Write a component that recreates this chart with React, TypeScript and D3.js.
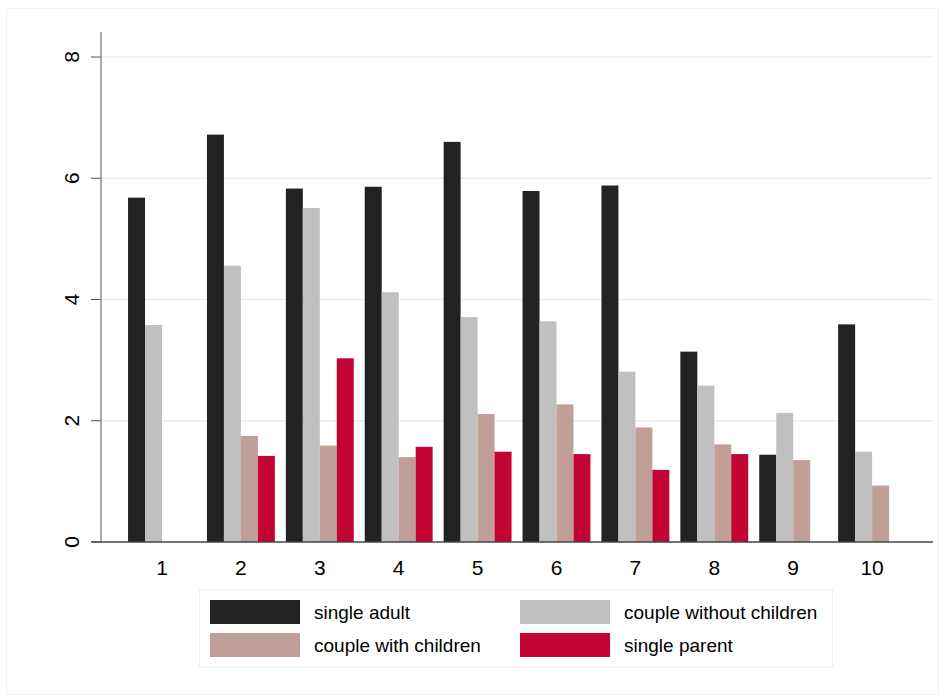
import React from 'react'
import * as d3 from 'd3'

const groups = ['1', '2', '3', '4', '5', '6', '7', '8', '9', '10']
const seriesNames = ['single adult', 'couple without children', 'couple with children', 'single parent']
const singleAdult = [5.68, 6.72, 5.83, 5.86, 6.6, 5.79, 5.88, 3.14, 1.44, 3.59]
const coupleNoKids = [3.58, 4.56, 5.51, 4.12, 3.71, 3.64, 2.81, 2.58, 2.13, 1.49]
const coupleKids = [0, 1.75, 1.59, 1.4, 2.11, 2.27, 1.89, 1.61, 1.35, 0.93]
const singleParent = [0, 1.42, 3.03, 1.57, 1.49, 1.45, 1.19, 1.45, 0, 0]
const yTicks = [0, 2, 4, 6, 8]
const colors = ['#222222', '#c0c0c0', '#bf9f98', '#c20434']

export default function App() {
  const W = 946, H = 697
  const values = [singleAdult, coupleNoKids, coupleKids, singleParent]
  const step = 78.9
  const x = d3.scaleBand<string>().domain(groups)
    .range([162 - step / 2, 162 - step / 2 + step * 10]).paddingInner(11 / step).paddingOuter(5.5 / step)
  const xs = d3.scaleBand<number>().domain([0, 1, 2, 3]).range([0, x.bandwidth()])
  const y = d3.scaleLinear().domain([0, 8]).range([542, 57])
  const font = 'Liberation Sans, Arial, sans-serif'
  return (
    <svg width={W} height={H} style={{ display: 'block', position: 'absolute', left: 0, top: 0 }} fontFamily={font}>
      <rect x={0} y={0} width={W} height={H} fill="#fff" />
      <rect x={6.5} y={8.5} width={932} height={686} fill="none" stroke="#eef2f2" />
      {yTicks.filter(t => t > 0).map(t => (
        <line key={t} x1={101} x2={933} y1={y(t)} y2={y(t)} stroke="#e8eef1" strokeWidth={1.5} />
      ))}
      {values.map((vals, si) => vals.map((v, gi) => v > 0 && (
        <rect key={`${si}-${gi}`} x={(x(groups[gi]) ?? 0) + (xs(si) ?? 0)} y={y(v)}
          width={xs.bandwidth()} height={y(0) - y(v)} fill={colors[si]} />
      )))}
      <line x1={101} x2={101} y1={y(8) - 25} y2={y(0)} stroke="#555" />
      <line x1={91} x2={933} y1={y(0)} y2={y(0)} stroke="#444" strokeWidth={1.3} />
      {yTicks.map(t => (
        <g key={t}>
          <line x1={91} x2={101} y1={y(t)} y2={y(t)} stroke="#555" />
          <text transform={`translate(79,${y(t)}) rotate(-90)`} textAnchor="middle" fontSize={21}>{t}</text>
        </g>
      ))}
      {groups.map(g => (
        <text key={g} x={(x(g) ?? 0) + x.bandwidth() / 2} y={575} textAnchor="middle" fontSize={21}>{g}</text>
      ))}
      <rect x={199.5} y={589.5} width={633} height={78} fill="#fff" stroke="#eef2f2" />
      {seriesNames.map((n, i) => {
        const cx = i % 2 === 0 ? 210 : 520
        const cy = i < 2 ? 600 : 633
        return (
          <g key={n}>
            <rect x={cx} y={cy} width={90} height={24} fill={colors[i]} />
            <text x={cx + 104} y={cy + 19} fontSize={19}>{n}</text>
          </g>
        )
      })}
    </svg>
  )
}
